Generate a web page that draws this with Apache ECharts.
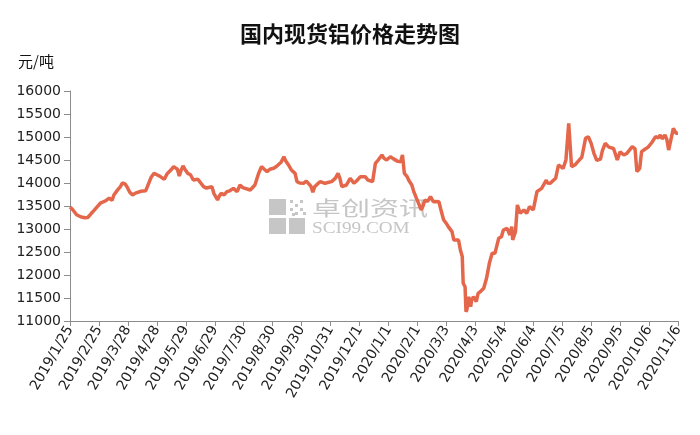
<!DOCTYPE html>
<html>
<head>
<meta charset="utf-8">
<script src="https://cdn.jsdelivr.net/npm/echarts@6/dist/echarts.min.js"></script>
<style>html,body{margin:0;padding:0;background:#fff}#c{width:700px;height:435px}</style>
</head>
<body>
<div id="c"></div>
<script>
var chartTitle = '国内现货铝价格走势图';
var unitLabel = '元/吨';
var startDate = '2019-01-25';
var tickStepDays = 31;
var endOffsetDays = 651;
var yMin = 11000, yMax = 16000, yStep = 500;

var dates = [
'2019-01-25','2019-01-28','2019-02-01','2019-02-06','2019-02-10','2019-02-13','2019-02-16','2019-02-20','2019-02-23','2019-02-27',
'2019-03-01','2019-03-04','2019-03-08','2019-03-11','2019-03-13','2019-03-17','2019-03-20','2019-03-22','2019-03-25','2019-03-27',
'2019-03-30','2019-04-02','2019-04-05','2019-04-07','2019-04-11','2019-04-16','2019-04-20','2019-04-22','2019-04-25','2019-04-28',
'2019-05-01','2019-05-06','2019-05-09','2019-05-13','2019-05-16','2019-05-20','2019-05-22','2019-05-24','2019-05-26','2019-05-28',
'2019-05-31','2019-06-03','2019-06-06','2019-06-11','2019-06-14','2019-06-17','2019-06-20','2019-06-22','2019-06-26','2019-06-28',
'2019-07-02','2019-07-04','2019-07-06','2019-07-09','2019-07-12','2019-07-15','2019-07-19','2019-07-23','2019-07-26','2019-07-29',
'2019-07-31','2019-08-06','2019-08-11','2019-08-15','2019-08-18','2019-08-21','2019-08-24','2019-08-27','2019-08-31','2019-09-03',
'2019-09-05','2019-09-08','2019-09-11','2019-09-13','2019-09-16','2019-09-19','2019-09-23','2019-09-25','2019-09-28','2019-10-02',
'2019-10-05','2019-10-07','2019-10-10','2019-10-12','2019-10-14','2019-10-17','2019-10-20','2019-10-25','2019-10-28','2019-11-01',
'2019-11-05','2019-11-08','2019-11-10','2019-11-12','2019-11-14','2019-11-17','2019-11-21','2019-11-25','2019-11-28','2019-12-02',
'2019-12-07','2019-12-10','2019-12-15','2019-12-18','2019-12-21','2019-12-25','2019-12-27','2019-12-30','2020-01-03','2020-01-06',
'2020-01-08','2020-01-11','2020-01-14','2020-01-16','2020-01-18','2020-01-21','2020-01-23','2020-01-26','2020-01-28','2020-01-31',
'2020-02-03','2020-02-05','2020-02-07','2020-02-09','2020-02-12','2020-02-15','2020-02-18','2020-02-21','2020-02-24','2020-02-26',
'2020-02-29','2020-03-03','2020-03-05','2020-03-09','2020-03-11','2020-03-13','2020-03-16','2020-03-18','2020-03-20','2020-03-21',
'2020-03-23','2020-03-24','2020-03-25','2020-03-27','2020-03-29','2020-03-30','2020-04-01','2020-04-04','2020-04-06','2020-04-09',
'2020-04-12','2020-04-15','2020-04-18','2020-04-21','2020-04-24','2020-04-28','2020-05-01','2020-05-03','2020-05-07','2020-05-10',
'2020-05-12','2020-05-13','2020-05-16','2020-05-18','2020-05-21','2020-05-25','2020-05-28','2020-05-31','2020-06-04','2020-06-08',
'2020-06-13','2020-06-18','2020-06-19','2020-06-22','2020-06-28','2020-06-29','2020-07-01','2020-07-03','2020-07-06','2020-07-09',
'2020-07-12','2020-07-15','2020-07-19','2020-07-22','2020-07-26','2020-07-30','2020-08-02','2020-08-05','2020-08-08','2020-08-11',
'2020-08-15','2020-08-17','2020-08-20','2020-08-24','2020-08-25','2020-08-29','2020-09-02','2020-09-05','2020-09-09','2020-09-12',
'2020-09-18','2020-09-21','2020-09-23','2020-09-26','2020-09-28','2020-10-02','2020-10-05','2020-10-09','2020-10-13','2020-10-16',
'2020-10-18','2020-10-20','2020-10-23','2020-10-25','2020-10-27','2020-10-29','2020-11-01','2020-11-04','2020-11-06'
];

var prices = [
13480,13420,13310,13260,13245,13250,13320,13410,13480,13570,
13560,13610,13670,13620,13740,13850,13920,14000,13980,13920,
13800,13740,13780,13790,13820,13830,14030,14130,14210,14180,
14150,14080,14200,14280,14355,14300,14150,14280,14370,14300,
14210,14180,14065,14080,14000,13920,13890,13884,13920,13776,
13630,13720,13776,13740,13811,13830,13884,13811,13956,13900,
13862,13848,13956,14210,14355,14300,14247,14300,14319,14360,
14391,14450,14572,14480,14391,14283,14210,14029,14000,13993,
14040,14065,13930,13800,13920,13980,14029,13993,14010,14029,
14100,14210,14100,13920,13950,13956,14102,13993,14050,14138,
14138,14065,14029,14427,14500,14609,14540,14500,14572,14530,
14500,14470,14464,14609,14210,14138,14050,13956,13820,13667,
13520,13413,13500,13630,13600,13703,13594,13600,13594,13430,
13200,13120,13051,12942,12760,12800,12760,12543,12400,11820,
11745,11200,11250,11528,11310,11450,11528,11420,11600,11650,
11710,11928,12254,12471,12471,12797,12833,12978,13015,12870,
13051,12761,12942,13522,13341,13413,13341,13486,13413,13811,
13884,14065,14000,13993,14102,14138,14391,14390,14319,14500,
15297,14355,14400,14470,14560,14971,15007,14862,14645,14490,
14520,14700,14862,14780,14760,14750,14500,14680,14609,14640,
14790,14740,14246,14320,14681,14740,14780,14880,15007,14980,
15043,14960,15043,14950,14717,14760,15189,15080,15080
];

var DAY = 86400000;
function toUTC(s){var p=s.split('-');return Date.UTC(+p[0],+p[1]-1,+p[2]);}
var base = toUTC(startDate);
var seriesData = dates.map(function(d,i){return [Math.round((toUTC(d)-base)/DAY), prices[i]];});
function fmtOffset(v){
  var d = new Date(base + Math.round(v)*DAY);
  return d.getUTCFullYear()+'/'+(d.getUTCMonth()+1)+'/'+d.getUTCDate();
}

var chart = echarts.init(document.getElementById('c'), null, {renderer:'canvas'});
var wmGray = '#c6c6c6';
var dots = [];
var dotPos = [[0,0],[10,0],[5,4],[0,8],[10,8],[5,12],[13,12],[2,13]];
dotPos.forEach(function(p){dots.push({type:'rect',shape:{x:290+p[0],y:200+p[1],width:3,height:3},style:{fill:wmGray}});});

chart.setOption({
  backgroundColor:'#ffffff',
  animation:false,
  title:{text:chartTitle,left:'center',top:18,
    textStyle:{fontFamily:'Noto Sans CJK SC',fontSize:22,fontWeight:'bold',color:'#111'}},
  grid:{left:70,right:22,top:91,bottom:114,containLabel:false},
  graphic:[
    {type:'text',left:18,top:54,style:{text:unitLabel,font:'15px "Noto Sans CJK SC"',fill:'#111'}},
    {type:'group',silent:true,z:-1,children:[
      {type:'rect',shape:{x:269,y:199,width:17,height:16},style:{fill:wmGray}},
      {type:'rect',shape:{x:269,y:218,width:17,height:16},style:{fill:wmGray}},
      {type:'rect',shape:{x:289,y:218,width:16,height:16},style:{fill:wmGray}}
    ].concat(dots).concat([
      {type:'text',x:312,y:198,scaleX:1.45,style:{text:'卓创资讯',font:'20px "Noto Sans CJK SC"',fill:wmGray}},
      {type:'text',x:312,y:221,scaleX:1.2,style:{text:'SCI99.COM',font:'16px "Liberation Serif"',fill:wmGray}}
    ])}
  ],
  xAxis:{type:'value',min:0,max:endOffsetDays,interval:tickStepDays,
    axisLine:{show:true,lineStyle:{color:'#8c8c8c',width:1}},
    axisTick:{show:true,length:5,lineStyle:{color:'#8c8c8c'}},
    splitLine:{show:false},
    axisLabel:{rotate:60,margin:6,formatter:fmtOffset,fontFamily:'DejaVu Sans',fontSize:14,color:'#222'}},
  yAxis:{type:'value',min:yMin,max:yMax,interval:yStep,
    axisLine:{show:true,lineStyle:{color:'#8c8c8c',width:1}},
    axisTick:{show:true,length:6,lineStyle:{color:'#8c8c8c'}},
    splitLine:{show:false},
    axisLabel:{margin:9,formatter:function(v){return String(v);},fontFamily:'DejaVu Sans',fontSize:14,color:'#222'}},
  series:[{type:'line',data:seriesData,showSymbol:false,symbol:'none',
    lineStyle:{color:'#E5674B',width:3.5},z:3}]
});
</script>
</body>
</html>
